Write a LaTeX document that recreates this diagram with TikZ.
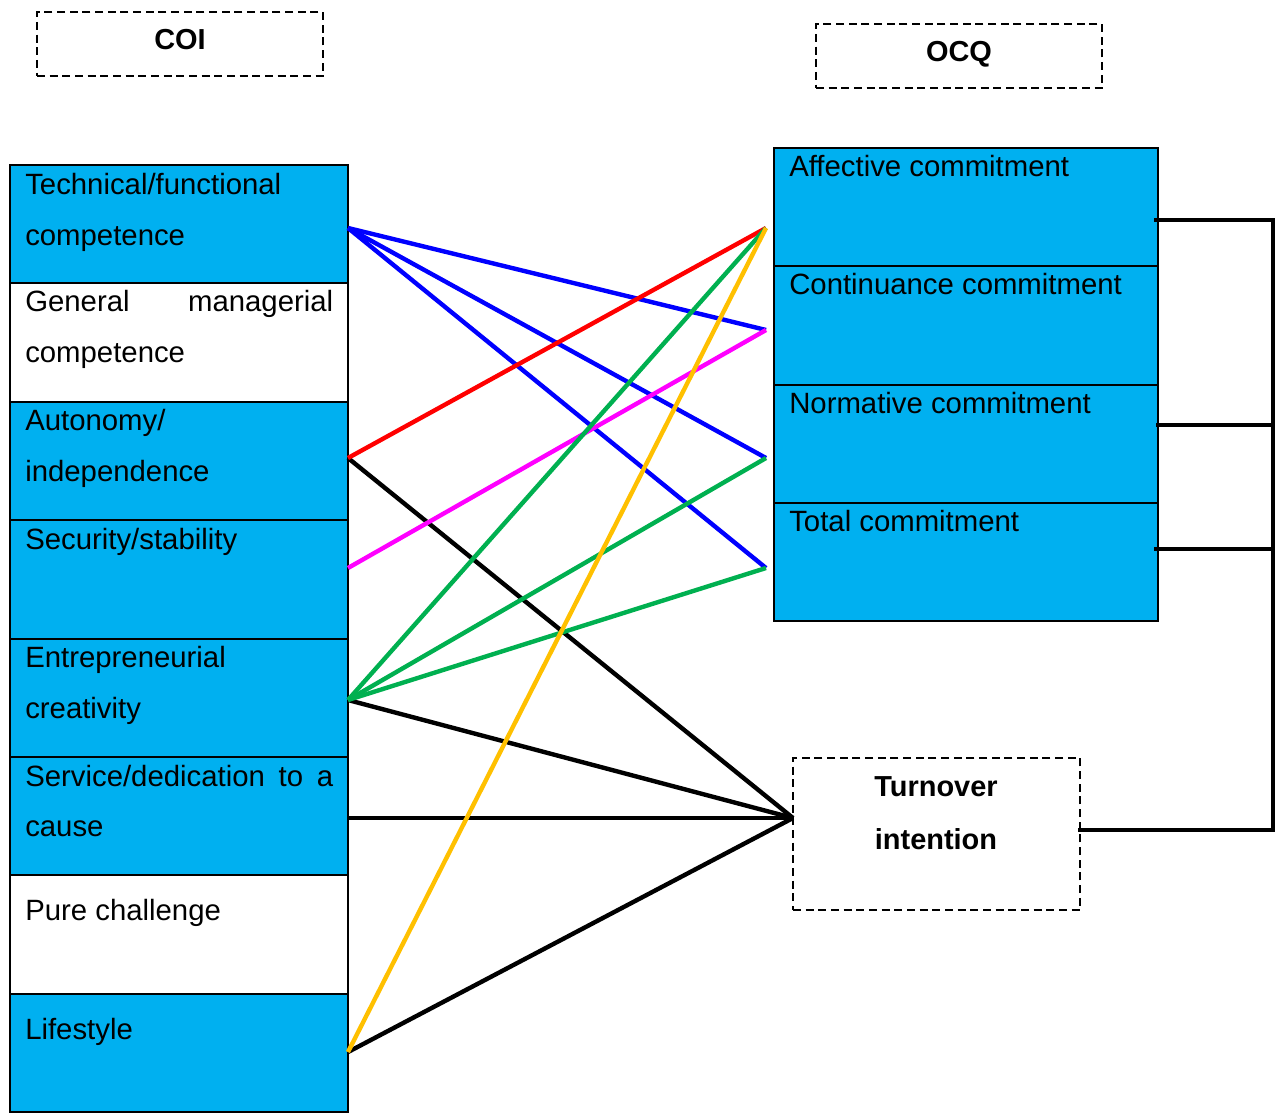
\documentclass[tikz,border=0pt]{standalone}
\usepackage{fontspec}
\setmainfont{Liberation Sans}
\begin{document}
\begin{tikzpicture}[x=0.75pt,y=-0.75pt,
  cell/.style={draw=black,line width=1.5pt,anchor=north west,inner sep=0,outer sep=0},
  lcell/.style={cell,minimum width=253.5pt,minimum height=88.8pt},
  rcell/.style={cell,minimum width=288pt,minimum height=88.7pt},
  dbox/.style={draw=black,line width=1.5pt,dash pattern=on 6pt off 3.5pt,inner sep=0,outer sep=0,anchor=north west},
  lbl/.style={anchor=base west,inner sep=0,font=\fontsize{22}{26}\selectfont},
  hlbl/.style={anchor=base,inner sep=0,font=\fontsize{21.7}{26}\selectfont\bfseries},
  link/.style={line width=3.3pt},
  brk/.style={line width=3.3pt,line cap=rect}]
\definecolor{cellblue}{HTML}{00B0F0}
\definecolor{lnblue}{HTML}{0000FF}
\definecolor{lnred}{HTML}{FF0000}
\definecolor{lnmag}{HTML}{FF00FF}
\definecolor{lngreen}{HTML}{00B050}
\definecolor{lnyellow}{HTML}{FFC000}

\useasboundingbox (0,0) rectangle (1276,1113);

% headings
\node[dbox,minimum width=214.5pt,minimum height=48pt] (coi) at (37,12) {};
\node[hlbl] (coit) at (180,50) {COI};
\node[dbox,minimum width=214.5pt,minimum height=48pt] (ocq) at (816,24) {};
\node[hlbl] (ocqt) at (959,62) {OCQ};

% career anchors column
\node[lcell,fill=cellblue] (c1) at (10,165) {};
\node[lcell,fill=white]    (c2) at (10,283.4) {};
\node[lcell,fill=cellblue] (c3) at (10,401.8) {};
\node[lcell,fill=cellblue] (c4) at (10,520.2) {};
\node[lcell,fill=cellblue] (c5) at (10,638.6) {};
\node[lcell,fill=cellblue] (c6) at (10,757) {};
\node[lcell,fill=white]    (c7) at (10,875.4) {};
\node[lcell,fill=cellblue] (c8) at (10,993.8) {};

\node[lbl] (c1a) at (25,194) {Technical/functional};
\node[lbl] (c1b) at (25,245) {competence};
\node[lbl] (c2a) at (25,311) {\hbox to 231pt{General\hfill managerial}};
\node[lbl] (c2b) at (25,362) {competence};
\node[lbl] (c3a) at (25,430) {Autonomy/};
\node[lbl] (c3b) at (25,481) {independence};
\node[lbl] (c4a) at (25,549) {Security/stability};
\node[lbl] (c5a) at (25,667) {Entrepreneurial};
\node[lbl] (c5b) at (25,718) {creativity};
\node[lbl] (c6a) at (25,786) {\makebox[231pt][s]{Service/dedication to a}};
\node[lbl] (c6b) at (25,836) {cause};
\node[lbl] (c7a) at (25,920) {Pure challenge};
\node[lbl] (c8a) at (25,1039) {Lifestyle};

% commitment column
\node[rcell,fill=cellblue] (r1) at (774,148) {};
\node[rcell,fill=cellblue] (r2) at (774,266.25) {};
\node[rcell,fill=cellblue] (r3) at (774,384.5) {};
\node[rcell,fill=cellblue] (r4) at (774,502.75) {};

\node[lbl] (r1a) at (789,176) {Affective commitment};
\node[lbl] (r2a) at (789,294) {Continuance commitment};
\node[lbl] (r3a) at (789,413) {Normative commitment};
\node[lbl] (r4a) at (789,531) {Total commitment};

% outcome
\node[dbox,minimum width=215.25pt,minimum height=114pt] (ti) at (793,758) {};
\node[hlbl] (tia) at (936,796) {Turnover};
\node[hlbl] (tib) at (936,849) {intention};

% connector end points
\coordinate (L1) at (348,228);
\coordinate (L3) at (348,458);
\coordinate (L4) at (348,568);
\coordinate (L5) at (348,700);
\coordinate (L6) at (348,818);
\coordinate (L8) at (348,1052);
\coordinate (R1) at (766,228);
\coordinate (R2) at (766,330);
\coordinate (R3) at (766,458);
\coordinate (R4) at (766,568);
\coordinate (T)  at (793,818);

% links to turnover intention
\draw[link,black] (L3) -- (T);
\draw[link,black] (L5) -- (T);
\draw[link,black] (L6) -- (T);
\draw[link,black] (L8) -- (T);

% links to commitment
\draw[link,lnblue] (L1) -- (R2);
\draw[link,lnblue] (L1) -- (R3);
\draw[link,lnblue] (L1) -- (R4);
\draw[link,lnred] (L3) -- (R1);
\draw[link,lnmag] (L4) -- (R2);
\draw[link,lngreen] (L5) -- (R1);
\draw[link,lngreen] (L5) -- (R3);
\draw[link,lngreen] (L5) -- (R4);
\draw[link,lnyellow] (L8) -- (R1);

% bracket joining commitment to turnover intention
\coordinate (k1) at (1156,220);
\coordinate (k2) at (1158,425);
\coordinate (k3) at (1156,549);
\coordinate (k4) at (1080,830);
\coordinate (kt) at (1273,220);
\coordinate (kb) at (1273,830);
\draw[brk] (k1) -- (kt) -- (kb) -- (k4);
\draw[brk] (k2) -- (k2 -| kt);
\draw[brk] (k3) -- (k3 -| kt);
\end{tikzpicture}
\end{document}
